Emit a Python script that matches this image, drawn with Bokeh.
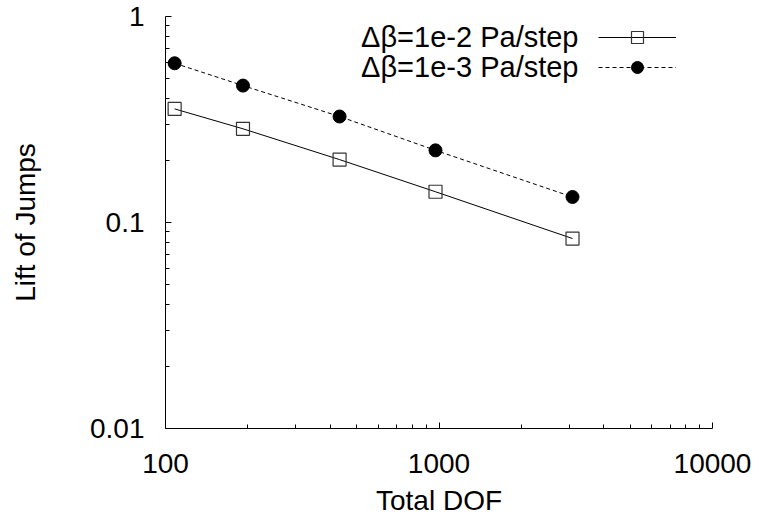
from bokeh.plotting import figure
from bokeh.models import (Range1d, FixedTicker, CustomJSTickFormatter, Legend,
                          LegendItem, Label)
from bokeh.core.properties import value
from bokeh.embed import file_html
from bokeh.resources import INLINE

# ---- data ----
dof = [108, 192, 433, 971, 3077]
lift_1e2 = [0.356, 0.285, 0.202, 0.141, 0.0836]
lift_1e3 = [0.593, 0.462, 0.327, 0.224, 0.133]
label_1e2 = "\u0394\u03b2=1e-2 Pa/step"
label_1e3 = "\u0394\u03b2=1e-3 Pa/step"
x_ticks = [100, 1000, 10000]
x_minor = [200, 300, 400, 500, 600, 700, 800, 900,
           2000, 3000, 4000, 5000, 6000, 7000, 8000, 9000]
y_ticks = [0.01, 0.1, 1]
y_minor = [0.02, 0.03, 0.04, 0.05, 0.06, 0.07, 0.08, 0.09,
           0.2, 0.3, 0.4, 0.5, 0.6, 0.7, 0.8, 0.9]

FONT = "Liberation Sans"
FS = "28px"

W, H = 759, 518
p = figure(width=W, height=H, x_axis_type="log", y_axis_type="log",
           x_range=Range1d(100, 10000), y_range=Range1d(0.01, 1),
           output_backend="svg", toolbar_location=None,
           min_border_left=165, min_border_right=W - 712,
           min_border_top=16, min_border_bottom=H - 428)
p.outline_line_color = None
p.xgrid.visible = False
p.ygrid.visible = False
p.background_fill_color = "white"
p.border_fill_color = "white"

fmt = CustomJSTickFormatter(code="return String(tick);")
for ax, ticks, minor in ((p.xaxis[0], x_ticks, x_minor), (p.yaxis[0], y_ticks, y_minor)):
    ax.ticker = FixedTicker(ticks=ticks, minor_ticks=minor)
    ax.formatter = fmt
    ax.major_tick_in = 6
    ax.major_tick_out = 0
    ax.minor_tick_in = 4
    ax.minor_tick_out = 0
    ax.axis_line_color = "black"
    ax.major_tick_line_color = "black"
    ax.minor_tick_line_color = "black"
    ax.major_label_text_font = FONT
    ax.major_label_text_font_size = FS
    ax.major_label_text_color = "black"
    ax.axis_label_text_font = FONT
    ax.axis_label_text_font_size = FS
    ax.axis_label_text_font_style = "normal"
    ax.axis_label_text_color = "black"

p.xaxis.axis_label = "Total DOF"
p.yaxis.axis_label = "Lift of Jumps"
p.xaxis.major_label_standoff = 25
p.xaxis.axis_label_standoff = 9
p.yaxis.major_label_standoff = 21
p.yaxis.axis_label_standoff = 46

# series 1: solid line, open squares
l1 = p.line(dof, lift_1e2, line_color="black", line_width=1)
m1 = p.scatter(dof, lift_1e2, marker="square", size=13, fill_color=None,
               line_color="#333333", line_width=1.2)
# series 2: dashed line, filled circles
l2 = p.line(dof, lift_1e3, line_color="black", line_width=1, line_dash="4 3")
m2 = p.scatter(dof, lift_1e3, marker="circle", size=13, fill_color="black",
               line_color="black")

legend = Legend(items=[LegendItem(label=value(""), renderers=[l1, m1]),
                       LegendItem(label=value(""), renderers=[l2, m2])],
                location=(433, 346), orientation="vertical",
                glyph_width=78, glyph_height=30, label_height=30, label_width=0,
                label_standoff=0, spacing=0, padding=0, margin=0,
                border_line_alpha=0, background_fill_alpha=0)
p.add_layout(legend)

for txt, yy in ((label_1e2, 392), (label_1e3, 362)):
    p.add_layout(Label(x=413, y=yy, x_units="screen", y_units="screen", text=txt,
                       text_align="right", text_baseline="middle",
                       text_font=FONT, text_font_size="29px", text_color="black"))

open("out.html", "w").write(file_html(p, INLINE))
